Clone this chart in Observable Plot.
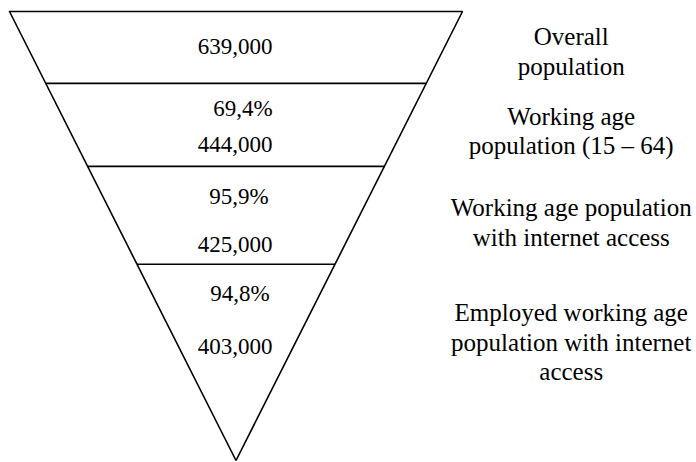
<!DOCTYPE html>
<html>
<head>
<meta charset="utf-8">
<script src="https://cdn.jsdelivr.net/npm/d3@7"></script>
<script src="https://cdn.jsdelivr.net/npm/@observablehq/plot@0.6"></script>
<style>
  html, body { margin: 0; padding: 0; background: #fff; }
  svg { display: block; }
</style>
</head>
<body>
<div id="chart"></div>
<script>
// ---- data ----
const stages = [
  "Overall\npopulation",
  "Working age\npopulation (15 – 64)",
  "Working age population\nwith internet access",
  "Employed working age\npopulation with internet\naccess"
];
const counts = [639000, 444000, 425000, 403000];
const shares = [null, 69.4, 95.9, 94.8]; // % of previous stage

// ---- layout (funnel depth: 0 = top edge, 1 = apex) ----
const dividerDepth = [0.160, 0.345, 0.563];
const countDepth = [0.078, 0.297, 0.520, 0.746];
const shareDepth = [null, 0.217, 0.413, 0.628];
const shareShift = [null, 0.031, 0.013, 0.018];
const stageDepth = [0.087, 0.264, 0.468, 0.734];

const fmtCount = d3.format(",");
const fmtShare = v => v.toFixed(1).replace(".", ",") + "%";

const countRows = counts.map((v, i) => ({label: fmtCount(v), y: countDepth[i]}));
const shareRows = shares.map((v, i) => ({v, y: shareDepth[i], x: shareShift[i]})).filter(d => d.v != null)
  .map(d => ({label: fmtShare(d.v), y: d.y, x: d.x}));
const stageRows = stages.map((s, i) => ({label: s, y: stageDepth[i]}));
const dividers = dividerDepth.map(d => ({x1: -(1 - d), x2: 1 - d, y: d}));
const outline = [{x: -1, y: 0}, {x: 1, y: 0}, {x: 0, y: 1}, {x: -1, y: 0}];

const font = "'Liberation Serif', Tinos, 'Times New Roman', Times, serif";

const chart = Plot.plot({
  width: 696,
  height: 462,
  margin: 0,
  style: {background: "#fff", color: "#000"},
  x: {domain: [-1, 1], range: [9, 462], axis: null},
  y: {domain: [0, 1], range: [11, 460], axis: null},
  marks: [
    Plot.line(outline, {x: "x", y: "y", stroke: "#000", strokeWidth: 1.6, curve: "linear", strokeLinejoin: "miter"}),
    Plot.link(dividers, {x1: "x1", x2: "x2", y1: "y", y2: "y", stroke: "#000", strokeWidth: 1.6}),
    Plot.text(countRows, {x: -0.004, y: "y", text: "label", fontSize: 23, fontFamily: font, fill: "#000", lineAnchor: "middle"}),
    Plot.text(shareRows, {x: "x", y: "y", text: "label", fontSize: 23, fontFamily: font, fill: "#000", lineAnchor: "middle"}),
    Plot.text(stageRows, {x: 1.48, y: "y", text: "label", fontSize: 25, fontFamily: font, lineHeight: 1.18, fill: "#000", lineAnchor: "middle", textAnchor: "middle"})
  ]
});
document.getElementById("chart").appendChild(chart);
</script>
</body>
</html>
